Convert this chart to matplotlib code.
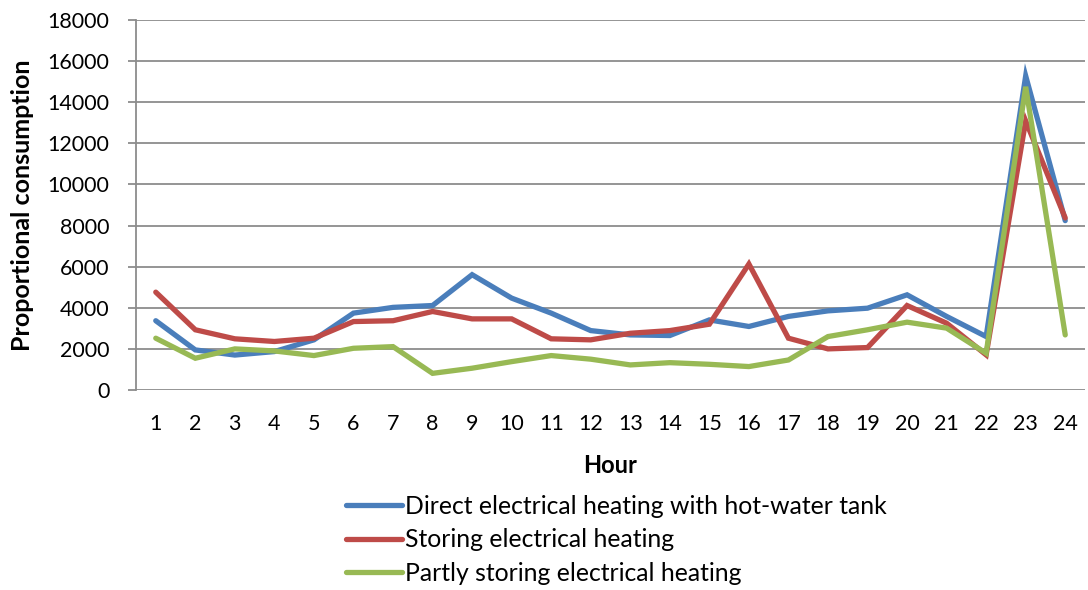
import numpy as np
import matplotlib
matplotlib.use('Agg')
import matplotlib.pyplot as plt

plt.rcParams['font.family'] = ['Lato', 'DejaVu Sans']

hours = list(range(1, 25))

direct_with_tank = [3370, 1950, 1700, 1870, 2440, 3740, 4020, 4110,
                    5610, 4470, 3740, 2890, 2680, 2650, 3410, 3090,
                    3580, 3850, 3980, 4630, 3580, 2600, 15280, 8240]
storing = [4760, 2930, 2490, 2360, 2520, 3330, 3370, 3820,
           3460, 3460, 2490, 2440, 2760, 2890, 3200, 6130,
           2520, 2000, 2065, 4110, 3250, 1710, 13090, 8370]
partly_storing = [2520, 1545, 2000, 1900, 1675, 2030, 2110, 810,
                  1060, 1380, 1675, 1500, 1220, 1330, 1250, 1140,
                  1460, 2600, 2930, 3300, 3010, 1790, 14750, 2680]

series_labels = ['Direct electrical heating with hot-water tank',
                 'Storing electrical heating',
                 'Partly storing electrical heating']
colors = ['#4A7EBB', '#BE4B48', '#98B954']

fig = plt.figure(figsize=(10.88, 5.90), dpi=100)
ax = fig.add_axes([136 / 1088, 1 - 390 / 590, (1085 - 136) / 1088, 370 / 590])

for vals, lab, col in zip([direct_with_tank, storing, partly_storing],
                          series_labels, colors):
    ax.plot(hours, vals, color=col, linewidth=3.8, label=lab,
            solid_joinstyle='miter', solid_capstyle='round')

ax.set_xlim(0.5, 24.5)
ax.set_ylim(0, 18000)
ax.set_yticks(np.arange(0, 18001, 2000))
ax.set_xticks(hours)
ax.yaxis.grid(True, color='#8c8c8c', linewidth=1.3)
ax.set_axisbelow(True)

for side in ['top', 'right', 'bottom']:
    ax.spines[side].set_visible(False)
ax.spines['left'].set_color('#8c8c8c')
ax.spines['left'].set_linewidth(1.3)

ax.tick_params(axis='y', length=6, width=1.3, color='#8c8c8c',
               labelsize=15.5, pad=13)
ax.tick_params(axis='x', length=0, labelsize=15.5, pad=17)

ax.set_xlabel('Hour', fontsize=17, fontweight='bold', labelpad=15)
ax.set_ylabel('Proportional consumption', fontsize=18,
              fontweight='bold')
ax.yaxis.set_label_coords(-102 / 949, 0.5)

leg = ax.legend(loc='upper left', bbox_to_anchor=(346 / 1088, 1 - 495 / 590),
                bbox_transform=fig.transFigure, frameon=False, fontsize=17.8,
                handlelength=2.25, handletextpad=0.15, labelspacing=0.42,
                borderaxespad=0, borderpad=0)

fig.savefig('out.png', dpi=100)
